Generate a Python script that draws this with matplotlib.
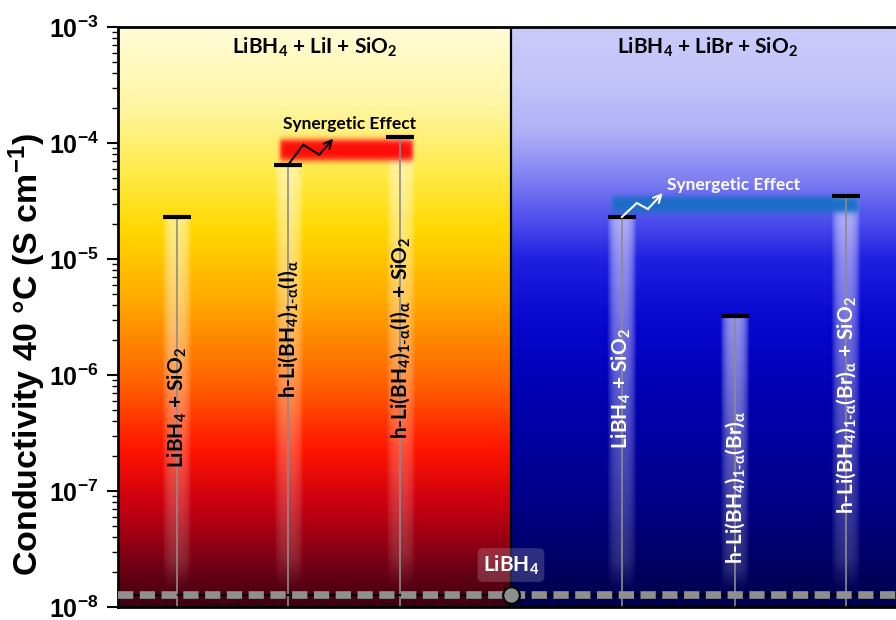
import numpy as np
import matplotlib
matplotlib.use("Agg")
import matplotlib.pyplot as plt
from matplotlib.colors import LinearSegmentedColormap, to_rgb
from matplotlib.ticker import FixedLocator, LogLocator, NullFormatter


def sub(s):
    return r"$\mathregular{_{" + s + "}}$"


HY = "\u2010"  # typographic hyphen, keeps "1-α" from turning into a minus sign

# ---- data ---------------------------------------------------------------
panel_titles = [
    "LiBH" + sub("4") + " + LiI + SiO" + sub("2"),
    "LiBH" + sub("4") + " + LiBr + SiO" + sub("2"),
]

iodide_labels = [
    "LiBH" + sub("4") + " + SiO" + sub("2"),
    "h-Li(BH" + sub("4") + ")" + sub("1" + HY + "α") + "(I)" + sub("α"),
    "h-Li(BH" + sub("4") + ")" + sub("1" + HY + "α") + "(I)" + sub("α") + " + SiO" + sub("2"),
]
iodide_values = [2.3e-5, 6.5e-5, 1.13e-4]          # S cm-1 at 40 °C

bromide_labels = [
    "LiBH" + sub("4") + " + SiO" + sub("2"),
    "h-Li(BH" + sub("4") + ")" + sub("1" + HY + "α") + "(Br)" + sub("α"),
    "h-Li(BH" + sub("4") + ")" + sub("1" + HY + "α") + "(Br)" + sub("α") + " + SiO" + sub("2"),
]
bromide_values = [2.3e-5, 3.2e-6, 3.5e-5]          # S cm-1 at 40 °C

libh4_label = "LiBH" + sub("4")
libh4_value = 1.27e-8                              # S cm-1 at 40 °C

ytick_values = [1e-8, 1e-7, 1e-6, 1e-5, 1e-4, 1e-3]
ytick_labels = [r"$\mathregular{10^{-8}}$", r"$\mathregular{10^{-7}}$",
                r"$\mathregular{10^{-6}}$", r"$\mathregular{10^{-5}}$",
                r"$\mathregular{10^{-4}}$", r"$\mathregular{10^{-3}}$"]

# ---- layout -------------------------------------------------------------
iodide_x = [0.150, 0.433, 0.718]
bromide_x = [1.282, 1.570, 1.852]
iodide_label_y = [5.2e-7, 2.5e-6, 2.1e-6]
bromide_label_y = [7.7e-7, 1.08e-7, 5.5e-7]

YMIN, YMAX = 1e-8, 1e-3
LABEL_FONT = "Lato"
AXIS_FONT = "Liberation Sans"

fig = plt.figure(figsize=(8.96, 6.2), dpi=100)
pos = [118 / 896, 13 / 620, 786 / 896, 580 / 620]
bg = fig.add_axes(pos, zorder=0)
ax = fig.add_axes(pos, zorder=1)
ax.patch.set_visible(False)

bg.set_axis_off()
bg.set_xlim(0, 2)
bg.set_ylim(0, 1)


def frac(v):
    return (np.log10(v) - np.log10(YMIN)) / (np.log10(YMAX) - np.log10(YMIN))


# background gradients
warm = LinearSegmentedColormap.from_list("warm", [
    (0.00, "#3a0012"), (0.08, "#7a0014"), (0.18, "#cc0010"),
    (0.27, "#ff1400"), (0.39, "#ff6400"), (0.53, "#ffaa00"),
    (0.65, "#ffd800"), (0.75, "#ffeb48"), (0.87, "#fff6a6"),
    (1.00, "#fffcd6")])
cool = LinearSegmentedColormap.from_list("cool", [
    (0.00, "#00004a"), (0.18, "#000088"), (0.36, "#0000b0"),
    (0.50, "#0808d0"), (0.60, "#2020e0"), (0.67, "#5050ee"),
    (0.74, "#8080f4"), (0.82, "#b0b0f8"), (0.91, "#c4c4fa"),
    (1.00, "#cacafa")])
grad = np.linspace(0, 1, 512)[:, None]
bg.imshow(grad, cmap=warm, extent=(0, 1, 0, 1), origin="lower",
          aspect="auto", interpolation="bilinear", zorder=0)
bg.imshow(grad, cmap=cool, extent=(1, 2, 0, 1), origin="lower",
          aspect="auto", interpolation="bilinear", zorder=0)


def glow(x, top, color, a_top, a_bot, halfw=0.037):
    ny, nx = 300, 48
    y0, y1 = frac(1.35e-8), frac(top)
    yy = np.linspace(0, 1, ny)[:, None]
    xx = np.linspace(-1, 1, nx)[None, :]
    px = np.clip(1 - np.abs(xx) ** 3, 0, 1)
    py = a_bot + (a_top - a_bot) * yy
    py = py * np.clip(yy / 0.08, 0, 1)
    rgba = np.zeros((ny, nx, 4))
    rgba[..., :3] = to_rgb(color)
    rgba[..., 3] = px * py
    bg.imshow(rgba, extent=(x - halfw, x + halfw, y0, y1), origin="lower",
              aspect="auto", interpolation="bilinear", zorder=1)


def soft_bar(x0, x1, v0, v1, color, sx=0.006, sy=0.006):
    y0, y1 = frac(v0), frac(v1)
    pad_x, pad_y = 3 * sx, 3 * sy
    xs = np.linspace(x0 - pad_x, x1 + pad_x, 400)[None, :]
    ys = np.linspace(y0 - pad_y, y1 + pad_y, 80)[:, None]
    a = 0.25 * (np.tanh((xs - x0) / sx) - np.tanh((xs - x1) / sx)) \
        * (np.tanh((ys - y0) / sy) - np.tanh((ys - y1) / sy))
    rgba = np.zeros((ys.size, xs.size, 4))
    rgba[..., :3] = to_rgb(color)
    rgba[..., 3] = np.clip(a, 0, 1)
    bg.imshow(rgba, extent=(x0 - pad_x, x1 + pad_x, y0 - pad_y, y1 + pad_y),
              origin="lower", aspect="auto", interpolation="bilinear", zorder=2)


for x, v in zip(iodide_x, iodide_values):
    glow(x, v, "#fffbe8", 0.55, 0.12)
for x, v in zip(bromide_x, bromide_values):
    glow(x, v, "#f0f0ff", 0.6, 0.14)

# synergy bands spanning the binary and ternary systems
soft_bar(iodide_x[1] - 0.020, iodide_x[2] + 0.033, 7.1e-5, 1.06e-4, "#ff0a0a")
soft_bar(bromide_x[0] - 0.025, bromide_x[2] + 0.031, 2.5e-5, 3.42e-5, "#1a6ec6")

# ---- main log axes ------------------------------------------------------
ax.set_yscale("log")
ax.set_xlim(0, 2)
ax.set_ylim(YMIN, YMAX)

cap_hw = 0.036
for xs, vs in ((iodide_x, iodide_values), (bromide_x, bromide_values)):
    ax.vlines(xs, YMIN, vs, color="#8c8c8c", lw=1.2, zorder=2)
    ax.hlines(vs, np.array(xs) - cap_hw, np.array(xs) + cap_hw,
              color="black", lw=3, zorder=3)

for x, yl, lab in zip(iodide_x, iodide_label_y, iodide_labels):
    ax.text(x, yl, lab, rotation=90, ha="center", va="center",
            fontsize=15, fontweight="bold", family=LABEL_FONT,
            color="black", zorder=4)
for x, yl, lab in zip(bromide_x, bromide_label_y, bromide_labels):
    ax.text(x, yl, lab, rotation=90, ha="center", va="center",
            fontsize=15, fontweight="bold", family=LABEL_FONT,
            color="white", zorder=4)

# panel titles
for xc, t in zip((0.5, 1.5), panel_titles):
    ax.text(xc, 0.9655, t, transform=ax.get_xaxis_transform(),
            ha="center", va="center", fontsize=15, fontweight="bold",
            family=LABEL_FONT, color="black")

# panel divider
ax.axvline(1.0, color="black", lw=1.6, zorder=3)

# LiBH4 reference line
ax.axhline(libh4_value, color="black", lw=1.5, zorder=5)
ax.axhline(libh4_value, color="#8f8f8f", lw=5.5, dashes=(2.0, 0.85), zorder=5)
ax.plot([1.0], [libh4_value], "o", ms=12, mfc="#8f8f8f", mec="black",
        mew=1.6, zorder=6, clip_on=False)
ax.text(1.0, 2.3e-8, libh4_label, ha="center", va="center", fontsize=15,
        fontweight="bold", family=LABEL_FONT, color="white", zorder=6,
        bbox=dict(boxstyle="round,pad=0.25", fc="white", ec="none", alpha=0.18))


# zig-zag arrows drawn in pixel offsets from the lower cap of each band
def zigzag(x, v, offsets, color):
    fig.canvas.draw()
    base = ax.transData.transform((x, v))
    pts = ax.transData.inverted().transform(base + np.array(offsets, float))
    ax.plot(pts[:-1, 0], pts[:-1, 1], color=color, lw=1.5, zorder=7,
            solid_joinstyle="miter")
    ax.annotate("", xy=pts[-1], xytext=pts[-2],
                arrowprops=dict(arrowstyle="->", color=color, lw=1.5,
                                shrinkA=0, shrinkB=0, mutation_scale=14),
                zorder=7)


zigzag(iodide_x[1], iodide_values[1], [(0, 0), (15, 20), (31, 10), (45, 26)], "black")
zigzag(bromide_x[0], bromide_values[0], [(0, 0), (15, 14), (26, 8), (41, 24)], "white")

ax.text(0.590, 1.46e-4, "Synergetic Effect", ha="center", va="center",
        fontsize=12.5, fontweight="bold", family=LABEL_FONT, color="black", zorder=7)
ax.text(1.397, 4.35e-5, "Synergetic Effect", ha="left", va="center",
        fontsize=12.5, fontweight="bold", family=LABEL_FONT, color="white", zorder=7)

# ---- axis styling -------------------------------------------------------
ax.yaxis.set_major_locator(FixedLocator(ytick_values))
ax.set_yticklabels(ytick_labels, fontsize=18, fontweight="bold", family=AXIS_FONT)
ax.yaxis.set_minor_locator(LogLocator(base=10, subs=np.arange(2, 10), numticks=20))
ax.yaxis.set_minor_formatter(NullFormatter())
ax.tick_params(axis="y", which="major", length=8, width=1.5, direction="out", pad=6)
ax.tick_params(axis="y", which="minor", length=4, width=1.0, direction="out")
ax.set_xticks([])
for side in ("left", "top", "bottom"):
    ax.spines[side].set_linewidth(2)
    ax.spines[side].set_color("black")
ax.spines["right"].set_visible(False)

fig.text(27 / 896, 1 - 355 / 620, r"Conductivity 40 °C (S cm$\mathregular{^{-1}}$)",
         rotation=90, ha="center", va="center", fontsize=24.5, fontweight="bold",
         family=AXIS_FONT)

fig.savefig("out.png", dpi=100)
